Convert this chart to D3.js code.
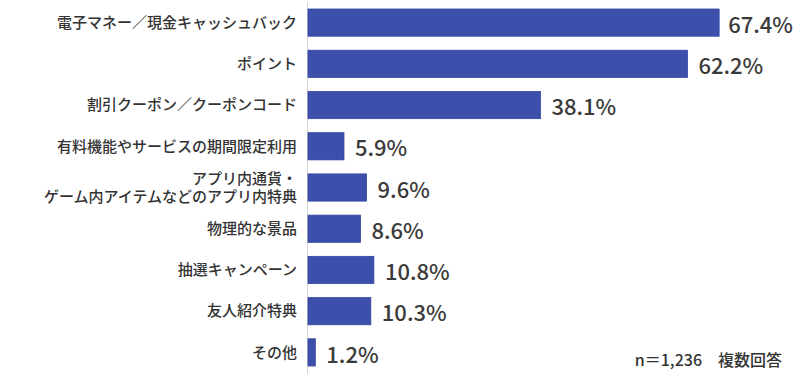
<!DOCTYPE html>
<html>
<head>
<meta charset="utf-8">
<script src="https://cdn.jsdelivr.net/npm/d3@7"></script>
<style>
  html, body { margin: 0; padding: 0; background: #fff; }
  svg { display: block; }
  text { font-family: "Noto Sans CJK JP", "Noto Sans", sans-serif; }
</style>
</head>
<body>
<script>
const categories = [
  "電子マネー／現金キャッシュバック",
  "ポイント",
  "割引クーポン／クーポンコード",
  "有料機能やサービスの期間限定利用",
  "アプリ内通貨・\nゲーム内アイテムなどのアプリ内特典",
  "物理的な景品",
  "抽選キャンペーン",
  "友人紹介特典",
  "その他"
];
const values = [67.4, 62.2, 38.1, 5.9, 9.6, 8.6, 10.8, 10.3, 1.2];
const valueLabels = ["67.4%", "62.2%", "38.1%", "5.9%", "9.6%", "8.6%", "10.8%", "10.3%", "1.2%"];
const note = "n＝1,236　複数回答";

const W = 800, H = 376;
const svg = d3.select("body").append("svg").attr("width", W).attr("height", H);

const x = d3.scaleLinear().domain([0, 100]).range([308, 918]);
const y = d3.scaleBand().domain(categories).range([9, 366]).paddingInner(0.34).paddingOuter(0);

// axis line
svg.append("line")
  .attr("x1", 307.5).attr("x2", 307.5)
  .attr("y1", 2).attr("y2", 374)
  .attr("stroke", "#d4d4d4").attr("stroke-width", 1);

// bars
svg.selectAll("rect.bar").data(categories).enter().append("rect")
  .attr("class", "bar")
  .attr("x", x(0))
  .attr("y", d => y(d))
  .attr("width", (d, i) => x(values[i]) - x(0))
  .attr("height", y.bandwidth())
  .attr("fill", "#3b4fab")
  .attr("stroke", "#3246a4")
  .attr("stroke-width", 0.8);

// category labels
const cl = svg.selectAll("text.cat").data(categories).enter().append("text")
  .attr("class", "cat")
  .attr("text-anchor", "end")
  .attr("font-size", 15)
  .attr("font-weight", 500)
  .attr("fill", "#333");
cl.each(function(d) {
  const lines = d.split("\n");
  const t = d3.select(this);
  const cy = y(d) + y.bandwidth() / 2;
  const lh = 18;
  lines.forEach((ln, k) => {
    t.append("tspan")
      .attr("x", 297)
      .attr("y", cy + (k - (lines.length - 1) / 2) * lh)
      .attr("dy", "0.35em")
      .text(ln);
  });
});

// value labels
svg.selectAll("text.val").data(categories).enter().append("text")
  .attr("class", "val")
  .attr("font-size", 22)
  .attr("font-weight", 500)
  .attr("fill", "#3a3a3a")
  .attr("y", d => y(d) + y.bandwidth() / 2 + 2.5)
  .attr("dy", "0.35em")
  .text((d, i) => valueLabels[i])
  .attr("x", function(d, i) {
    const w = this.getComputedTextLength();
    return Math.min(x(values[i]) + 11, W - 7 - w);
  });

// note
svg.append("text")
  .attr("x", 782).attr("y", 360).attr("dy", "0.35em")
  .attr("text-anchor", "end")
  .attr("font-size", 16)
  .attr("font-weight", 500)
  .attr("fill", "#333")
  .text(note);
</script>
</body>
</html>
